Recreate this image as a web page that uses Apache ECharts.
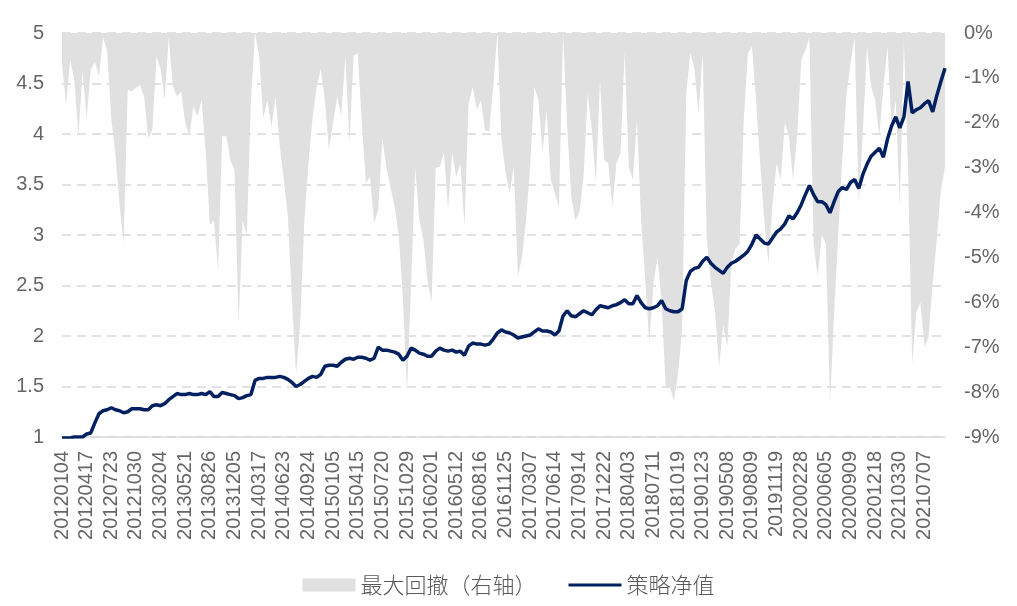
<!DOCTYPE html>
<html>
<head>
<meta charset="utf-8">
<script src="https://cdn.jsdelivr.net/npm/echarts@6/dist/echarts.min.js"></script>
<style>
html,body{margin:0;padding:0;background:#fff;}
#chart{width:1017px;height:606px;}
</style>
</head>
<body>
<div id="chart"></div>
<script>
// Tick labels on the date axis (one every 6 points)
const tickLabels = ['20120104','20120417','20120723','20121030','20130204','20130521','20130826','20131205',
  '20140317','20140623','20140924','20150105','20150415','20150720','20151029','20160201','20160512','20160816',
  '20161125','20170307','20170614','20170914','20171222','20180403','20180711','20181019','20190123','20190508',
  '20190809','20191119','20200228','20200605','20200909','20201218','20210330','20210707'];
const pointsPerTick = 6;

// 策略净值 (left axis)
const netValue = [
  0.99,0.99,0.99,1.00,1.00,1.00,1.03,1.04,1.14,1.23,
  1.26,1.27,1.29,1.27,1.26,1.24,1.25,1.28,1.28,1.28,
  1.27,1.27,1.31,1.32,1.31,1.33,1.37,1.40,1.43,1.42,
  1.42,1.43,1.42,1.42,1.43,1.42,1.45,1.40,1.40,1.44,
  1.43,1.42,1.41,1.38,1.39,1.41,1.42,1.56,1.58,1.58,
  1.59,1.59,1.59,1.60,1.59,1.57,1.54,1.50,1.52,1.55,
  1.58,1.60,1.59,1.62,1.70,1.71,1.71,1.70,1.74,1.77,
  1.78,1.77,1.79,1.79,1.78,1.76,1.78,1.89,1.86,1.86,
  1.85,1.84,1.82,1.76,1.80,1.88,1.86,1.83,1.82,1.80,
  1.80,1.85,1.88,1.86,1.85,1.86,1.84,1.85,1.81,1.90,
  1.93,1.92,1.92,1.91,1.92,1.97,2.03,2.06,2.04,2.03,
  2.01,1.98,1.99,2.00,2.01,2.04,2.07,2.05,2.05,2.04,
  2.01,2.05,2.20,2.25,2.20,2.19,2.22,2.25,2.23,2.21,
  2.26,2.30,2.29,2.28,2.30,2.31,2.33,2.36,2.32,2.32,
  2.40,2.33,2.28,2.27,2.28,2.30,2.35,2.27,2.25,2.24,
  2.24,2.27,2.55,2.64,2.67,2.68,2.74,2.78,2.72,2.68,
  2.65,2.62,2.68,2.72,2.74,2.77,2.80,2.84,2.91,3.00,
  2.96,2.92,2.91,2.97,3.03,3.06,3.11,3.19,3.16,3.22,
  3.30,3.40,3.49,3.40,3.33,3.33,3.30,3.22,3.33,3.43,
  3.47,3.45,3.52,3.55,3.46,3.60,3.70,3.78,3.82,3.86,
  3.77,3.95,4.08,4.17,4.06,4.17,4.52,4.21,4.24,4.26,
  4.30,4.33,4.22,4.38,4.52,4.65
];

// 最大回撤（右轴）, in percent
const drawdown = [
  -0.7,-1.6,-0.6,-1.05,-2.3,-0.85,-1.9,-0.82,-0.64,-0.97,
  -0.1,-0.4,-1.9,-2.7,-3.8,-4.7,-1.27,-1.3,-1.22,-1.16,
  -1.42,-2.35,-2.16,-0.53,-0.8,-1.49,-0.1,-1.2,-1.42,-1.3,
  -2.0,-2.3,-1.64,-1.86,-1.5,-2.67,-4.28,-4.17,-5.3,-2.3,
  -2.3,-2.83,-3.05,-6.5,-4.17,-4.5,-1.49,0,-0.5,-1.9,
  -1.5,-2.1,-1.42,-2.5,-3.27,-4.09,-6.0,-7.6,-6.47,-4.2,
  -2.9,-1.9,-1.2,-0.8,-1.49,-2.6,-2.0,-1.42,-1.83,-0.53,
  -2.45,-0.5,-0.45,-2.0,-3.34,-3.2,-4.23,-3.94,-2.35,-3.0,
  -3.45,-3.87,-4.5,-5.9,-8.0,-5.6,-3.0,-4.17,-4.6,-5.5,
  -6.0,-3.0,-2.98,-2.67,-3.94,-2.67,-3.2,-2.9,-4.3,-1.57,
  -1.2,-1.71,-1.5,-2.16,-2.2,-1.2,0,-2.38,-3.1,-3.57,
  -2.98,-5.43,-5.0,-4.17,-2.98,-1.2,-1.5,-2.67,-1.71,-3.27,
  -3.57,-3.87,0,-2.09,-3.65,-4.17,-4.0,-3.2,-1.34,-2.16,
  -3.34,-1.05,-2.83,-2.9,-3.87,-2.9,-2.67,-0.42,-2.98,-3.27,
  -1.94,-4.17,-5.5,-6.9,-5.6,-5.0,-6.0,-7.9,-7.88,-8.2,
  -7.6,-6.6,-1.34,-0.45,-0.8,-1.8,-0.45,-4.6,-5.57,-6.2,
  -7.43,-6.5,-6.99,-5.1,-4.8,-4.7,-1.94,-0.45,-0.3,-1.5,
  -2.9,-4.17,-5.13,-3.8,-2.9,-3.27,-2.0,-2.3,-3.27,-2.3,
  -0.6,-0.38,-0.1,-4.7,-5.43,-4.5,-4.7,-8.25,-6.24,-4.5,
  -2.8,-1.4,-0.67,-0.1,-3.8,-2.2,-0.3,-1.2,-1.5,-2.3,
  -1.2,-0.3,-2.1,-1.5,-3.87,-0.2,-3.0,-7.36,-6.24,-6.0,
  -6.99,-6.77,-5.57,-4.6,-3.5,-3.0
];

const leftTicks = { min: 1, max: 5, interval: 0.5 };
const rightTicks = { min: -9, max: 0, interval: 1 };

const lastIndex = netValue.length - 1;
const lineData = netValue.map((v, i) => [i, v]);
const ddData = drawdown.map((v, i) => [i, v]);

const labelColor = '#666666';
const chart = echarts.init(document.getElementById('chart'), null, { renderer: 'canvas' });
chart.setOption({
  animation: false,
  backgroundColor: '#ffffff',
  grid: { left: 62, right: 72, top: 33, bottom: 169, containLabel: false },
  legend: {
    bottom: 5,
    left: 'center',
    itemWidth: 53,
    itemHeight: 13,
    itemGap: 32,
    textStyle: { fontFamily: 'Noto Sans CJK SC', fontSize: 22, color: '#595959', fontWeight: 300 },
    data: [
      { name: '最大回撤（右轴）', icon: 'rect' },
      { name: '策略净值', icon: 'path://M0,0 M53,13 M0,5 L53,5 L53,8 L0,8 Z' }
    ]
  },
  xAxis: {
    type: 'value',
    min: 0,
    max: lastIndex,
    interval: pointsPerTick,
    axisLine: { show: true, onZero: false, lineStyle: { color: '#d9d9d9', width: 1.5 } },
    axisTick: { show: false },
    splitLine: { show: false },
    axisLabel: {
      rotate: 90,
      margin: 14,
      color: labelColor,
      fontFamily: 'Liberation Sans',
      fontSize: 20,
      showMaxLabel: true,
      formatter: function (v) {
        const k = Math.round(v);
        if (k % pointsPerTick !== 0) return '';
        const j = k / pointsPerTick;
        return j < tickLabels.length ? tickLabels[j] : '';
      }
    }
  },
  yAxis: [
    {
      type: 'value',
      min: leftTicks.min, max: leftTicks.max, interval: leftTicks.interval,
      axisLine: { show: false },
      axisTick: { show: false },
      axisLabel: { color: labelColor, fontFamily: 'Liberation Sans', fontSize: 20, margin: 18 },
      splitLine: { show: true, lineStyle: { color: '#d9d9d9', width: 1.5, type: [9, 6] } }
    },
    {
      type: 'value',
      min: rightTicks.min, max: rightTicks.max, interval: rightTicks.interval,
      axisLine: { show: false },
      axisTick: { show: false },
      axisLabel: { color: labelColor, fontFamily: 'Liberation Sans', fontSize: 20, margin: 19, formatter: '{value}%' },
      splitLine: { show: false }
    }
  ],
  series: [
    {
      name: '最大回撤（右轴）',
      type: 'line',
      yAxisIndex: 1,
      data: ddData,
      symbol: 'none',
      color: '#e0e0e0',
      lineStyle: { width: 0, color: '#e0e0e0' },
      areaStyle: { color: '#e0e0e0', opacity: 1, origin: 'end' },
      z: 1
    },
    {
      name: '策略净值',
      type: 'line',
      yAxisIndex: 0,
      data: lineData,
      symbol: 'none',
      color: '#002060',
      lineStyle: { width: 3.5, color: '#002060' },
      z: 3
    }
  ]
});
</script>
</body>
</html>
